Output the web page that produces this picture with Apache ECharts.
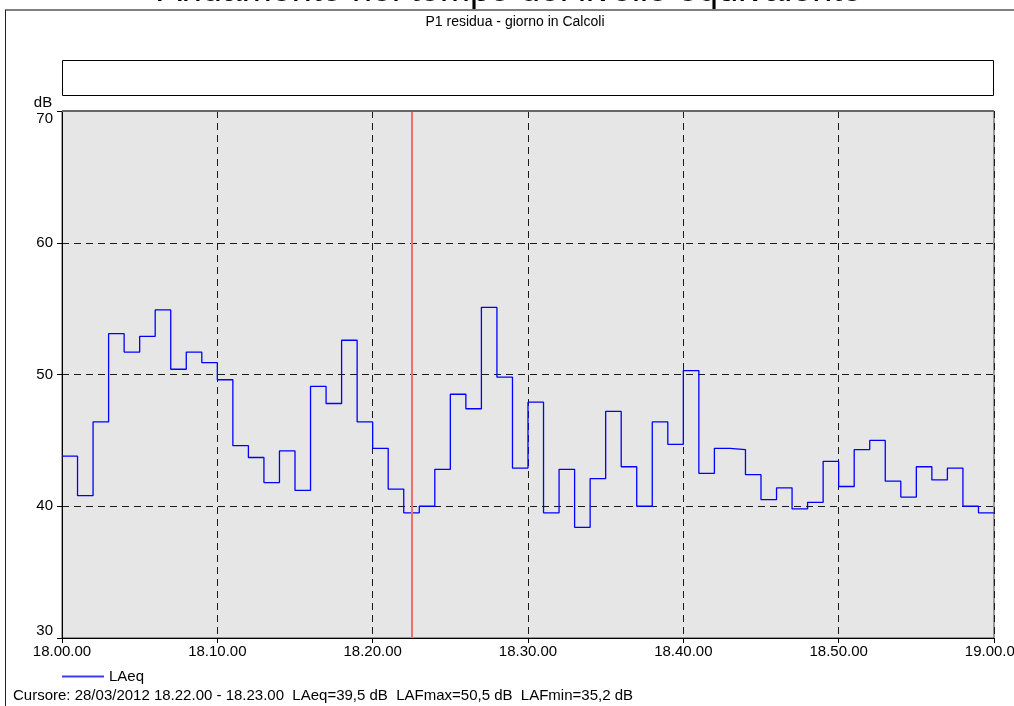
<!DOCTYPE html>
<html>
<head>
<meta charset="utf-8">
<script src="https://cdn.jsdelivr.net/npm/echarts@6/dist/echarts.min.js"></script>
<style>
  html, body { margin: 0; padding: 0; background: #fff; }
  #chart { width: 1014px; height: 706px; }
</style>
</head>
<body>
<div id="chart"></div>
<script>
// LAeq, one value per minute from 18.00.00 to 19.00.00 (dB)
const laeq = [
  43.8, 40.8, 46.4, 53.1, 51.7, 52.9, 54.9, 50.4, 51.7, 50.9,
  49.6, 44.6, 43.7, 41.8, 44.2, 41.2, 49.1, 47.8, 52.6, 46.4,
  44.4, 41.3, 39.5, 40.0, 42.8, 48.5, 47.4, 55.1, 49.8, 42.9,
  47.9, 39.5, 42.8, 38.4, 42.1, 47.2, 43.0, 40.0, 46.4, 44.7,
  50.3, 42.5, 44.4, 44.3, 42.4, 40.5, 41.4, 39.8, 40.3, 43.4,
  41.5, 44.3, 45.0, 41.9, 40.7, 43.0, 42.0, 42.9, 40.0, 39.5
];
const xTickLabels = ['18.00.00', '18.10.00', '18.20.00', '18.30.00', '18.40.00', '18.50.00', '19.00.00'];
const yTicks = [30, 40, 50, 60, 70];
const cursorMinute = 22.5;
const titleText = 'Andamento nel tempo del livello equivalente';
const subtitleText = 'P1 residua - giorno in Calcoli';
const unitText = 'dB';
const cursorText = 'Cursore: 28/03/2012 18.22.00 - 18.23.00  LAeq=39,5 dB  LAFmax=50,5 dB  LAFmin=35,2 dB';
const seriesName = 'LAeq';

// each minute holds its level until the next one; close the last step at 60
const stepData = laeq.map((v, i) => [i, v]);
stepData.push([laeq.length, laeq[laeq.length - 1]]);

const FONT = '"Liberation Sans", Arial, sans-serif';
const chart = echarts.init(document.getElementById('chart'), null, { renderer: 'canvas' });

const dashed = { color: '#1a1a1a', width: 1, type: [7, 5] };

chart.setOption({
  animation: false,
  backgroundColor: '#ffffff',
  textStyle: { fontFamily: FONT },
  grid: {
    left: 62, right: 20, top: 111, bottom: 68,
    outerBoundsMode: 'none', containLabel: false,
    show: true, backgroundColor: '#e6e6e6', borderColor: '#444', borderWidth: 1
  },
  legend: {
    left: 62, top: 669, padding: 0,
    itemWidth: 42, itemHeight: 2, itemGap: 10,
    icon: 'rect',
    textStyle: { fontFamily: FONT, fontSize: 15, color: '#000' },
    data: [{ name: seriesName, itemStyle: { color: '#3b3bff' } }]
  },
  xAxis: {
    type: 'value', min: 0, max: 60, interval: 10,
    axisLine: { show: true, lineStyle: { color: '#000', width: 1 } },
    axisTick: { show: true, length: 5, lineStyle: { color: '#000' } },
    axisLabel: {
      fontFamily: FONT, fontSize: 15, color: '#000', margin: 6,
      showMinLabel: true, showMaxLabel: true,
      formatter: v => xTickLabels[Math.round(v / 10)]
    },
    splitLine: { show: true, lineStyle: dashed }
  },
  yAxis: {
    type: 'value', min: yTicks[0], max: yTicks[yTicks.length - 1], interval: 10,
    axisLine: { show: true, lineStyle: { color: '#000', width: 1 } },
    axisTick: { show: true, length: 5, lineStyle: { color: '#000' } },
    axisLabel: {
      fontFamily: FONT, fontSize: 15, color: '#000', margin: 9,
      verticalAlignMaxLabel: 'top', verticalAlignMinLabel: 'bottom'
    },
    splitLine: { show: true, lineStyle: dashed }
  },
  series: [{
    name: seriesName,
    type: 'line',
    step: 'end',
    data: stepData,
    showSymbol: false,
    lineStyle: { color: '#0000ff', width: 1.3 },
    itemStyle: { color: '#0000ff' },
    markLine: {
      silent: true,
      symbol: ['none', 'none'],
      label: { show: false },
      lineStyle: { color: '#f07070', width: 2, type: 'solid' },
      data: [{ xAxis: cursorMinute }]
    },
    z: 3
  }],
  graphic: [
    // outer panel frame
    { type: 'line', shape: { x1: 5, y1: 10, x2: 1014, y2: 10 }, style: { stroke: '#808080', lineWidth: 2 }, z: 10 },
    { type: 'line', shape: { x1: 5.5, y1: 10, x2: 5.5, y2: 706 }, style: { stroke: '#222', lineWidth: 1 }, z: 10 },
    // solid top edge of the plot area
    { type: 'line', shape: { x1: 62, y1: 111, x2: 994, y2: 111 }, style: { stroke: '#666', lineWidth: 2 }, z: 10 },
    // empty caption box
    { type: 'rect', shape: { x: 62.5, y: 60.5, width: 931, height: 35 }, style: { fill: '#fff', stroke: '#000', lineWidth: 1 }, z: 10 },
    {
      type: 'text', x: 510, y: -9, z: 10,
      style: { text: titleText, font: '36px ' + FONT, fill: '#000', align: 'center', verticalAlign: 'middle' }
    },
    {
      type: 'text', x: 515, y: 22, z: 10,
      style: { text: subtitleText, font: '14px ' + FONT, fill: '#000', align: 'center', verticalAlign: 'middle' }
    },
    {
      type: 'text', x: 43, y: 103, z: 10,
      style: { text: unitText, font: '15px ' + FONT, fill: '#000', align: 'center', verticalAlign: 'middle' }
    },
    {
      type: 'text', x: 13, y: 696, z: 10,
      style: { text: cursorText, font: '15px ' + FONT, fill: '#000', align: 'left', verticalAlign: 'middle' }
    }
  ]
});
</script>
</body>
</html>
